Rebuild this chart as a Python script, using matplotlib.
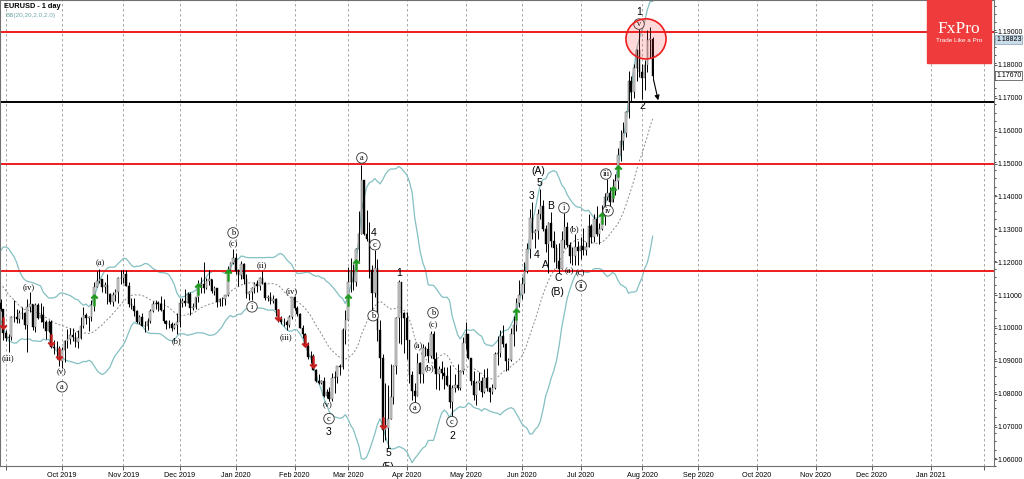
import numpy as np
import pandas as pd
import matplotlib
matplotlib.use("Agg")
import matplotlib.pyplot as plt
from matplotlib.patches import Rectangle, Ellipse

# closes before the first drawn bar (Aug 1 - Aug 28 2019), only to seed the bands
warmup_close = [1.1083, 1.1108, 1.1203, 1.1199, 1.1200, 1.1180, 1.1201, 1.1215, 1.1171, 1.1139,
                1.1107, 1.1090, 1.1078, 1.1093, 1.1081, 1.1081, 1.1143, 1.1099, 1.1089, 1.1076]
first_open = 1.1076

# daily bars Aug 29 2019 .. Aug 7 2020 (no bars on Dec 25 / Jan 1)
closes = [
    # Aug/Sep 2019
    1.1056, 1.0986, 1.0970, 1.0972, 1.1033, 1.1034, 1.1027, 1.1045, 1.1045, 1.1010, 1.1065, 1.1073,
    1.1003, 1.1070, 1.1031, 1.1040, 1.1017, 1.0991, 1.1019, 1.0942, 1.0939, 1.0939, 1.0900,
    # Oct
    1.0934, 1.0959, 1.0966, 1.0978, 1.0971, 1.0956, 1.0970, 1.1005, 1.1040, 1.1031, 1.1032, 1.1070,
    1.1123, 1.1143, 1.1149, 1.1125, 1.1131, 1.1103, 1.1078, 1.1099, 1.1110, 1.1152, 1.1152,
    # Nov
    1.1165, 1.1128, 1.1074, 1.1067, 1.1050, 1.1018, 1.1032, 1.1007, 1.1005, 1.1021, 1.1052, 1.1072,
    1.1077, 1.1073, 1.1055, 1.1022, 1.1012, 1.1013, 1.1000, 1.1009, 1.1018,
    # Dec
    1.1077, 1.1082, 1.1077, 1.1104, 1.1060, 1.1065, 1.1093, 1.1129, 1.1135, 1.1121, 1.1143, 1.1150,
    1.1112, 1.1122, 1.1078, 1.1087, 1.1088, 1.1101, 1.1176, 1.1198, 1.1213,
    # Jan 2020
    1.1172, 1.1160, 1.1195, 1.1150, 1.1104, 1.1108, 1.1120, 1.1133, 1.1127, 1.1151, 1.1136, 1.1092,
    1.1094, 1.1081, 1.1089, 1.1053, 1.1026, 1.1018, 1.1019, 1.1009, 1.1032, 1.1093,
    # Feb
    1.1061, 1.1043, 1.1001, 1.0980, 1.0945, 1.0911, 1.0916, 1.0871, 1.0839, 1.0831, 1.0837, 1.0792,
    1.0804, 1.0784, 1.0848, 1.0852, 1.0883, 1.0882, 1.0995, 1.1025,
    # Mar
    1.1139, 1.1173, 1.1140, 1.1240, 1.1286, 1.1449, 1.1285, 1.1270, 1.1177, 1.1107, 1.1183, 1.0994,
    1.0907, 1.0690, 1.0696, 1.0722, 1.0791, 1.0885, 1.1031, 1.1140, 1.1044, 1.1030,
    # Apr
    1.0962, 1.0856, 1.0807, 1.0794, 1.0892, 1.0859, 1.0938, 1.0937, 1.0914, 1.0980, 1.0906, 1.0860,
    1.0875, 1.0862, 1.0855, 1.0825, 1.0774, 1.0818, 1.0827, 1.0817, 1.0870, 1.0955,
    # May
    1.0980, 1.0907, 1.0838, 1.0796, 1.0832, 1.0839, 1.0805, 1.0848, 1.0816, 1.0804, 1.0816, 1.0922,
    1.0925, 1.0976, 1.0952, 1.0899, 1.0902, 1.0981, 1.1008, 1.1077, 1.1100,
    # Jun
    1.1134, 1.1172, 1.1239, 1.1335, 1.1289, 1.1295, 1.1345, 1.1371, 1.1301, 1.1256, 1.1319, 1.1264,
    1.1243, 1.1204, 1.1178, 1.1266, 1.1307, 1.1251, 1.1219, 1.1219, 1.1246, 1.1233,
    # Jul
    1.1249, 1.1238, 1.1245, 1.1310, 1.1275, 1.1330, 1.1287, 1.1300, 1.1342, 1.1398, 1.1411, 1.1384,
    1.1427, 1.1447, 1.1527, 1.1569, 1.1594, 1.1656, 1.1752, 1.1716, 1.1789, 1.1846, 1.1778,
    # Aug
    1.1760, 1.1799, 1.1875, 1.1878, 1.1767,
]
highs = [
    1.1088, 1.1059, 1.0994, 1.0980, 1.1035, 1.1085, 1.1057, 1.1054, 1.1064, 1.1048, 1.1087, 1.1109,
    1.1074, 1.1075, 1.1076, 1.1075, 1.1068, 1.1025, 1.1025, 1.1023, 1.0964, 1.0959, 1.0944,
    1.0943, 1.0964, 1.0998, 1.0999, 1.0999, 1.0988, 1.0994, 1.1033, 1.1063, 1.1044, 1.1036, 1.1086,
    1.1140, 1.1172, 1.1179, 1.1150, 1.1141, 1.1163, 1.1106, 1.1109, 1.1119, 1.1154, 1.1175,
    1.1176, 1.1175, 1.1140, 1.1092, 1.1092, 1.1054, 1.1039, 1.1046, 1.1022, 1.1031, 1.1057, 1.1081,
    1.1085, 1.1082, 1.1097, 1.1089, 1.1024, 1.1025, 1.1019, 1.1016, 1.1045,
    1.1090, 1.1090, 1.1117, 1.1110, 1.1109, 1.1077, 1.1095, 1.1145, 1.1154, 1.1200, 1.1153, 1.1175,
    1.1150, 1.1127, 1.1122, 1.1090, 1.1093, 1.1101, 1.1187, 1.1200, 1.1239,
    1.1228, 1.1180, 1.1205, 1.1196, 1.1165, 1.1113, 1.1123, 1.1141, 1.1145, 1.1156, 1.1172, 1.1140,
    1.1100, 1.1109, 1.1100, 1.1092, 1.1057, 1.1036, 1.1030, 1.1023, 1.1040, 1.1095,
    1.1096, 1.1066, 1.1046, 1.1010, 1.0985, 1.0957, 1.0929, 1.0920, 1.0876, 1.0859, 1.0843, 1.0852,
    1.0813, 1.0821, 1.0863, 1.0869, 1.0885, 1.0891, 1.1001, 1.1053,
    1.1185, 1.1214, 1.1195, 1.1242, 1.1356, 1.1495, 1.1451, 1.1358, 1.1323, 1.1190, 1.1237, 1.1211,
    1.1025, 1.0920, 1.0832, 1.0827, 1.0889, 1.0887, 1.1034, 1.1147, 1.1112, 1.1048,
    1.1047, 1.0963, 1.0868, 1.0831, 1.0925, 1.0895, 1.0952, 1.0946, 1.0958, 1.0990, 1.0990, 1.0926,
    1.0883, 1.0900, 1.0880, 1.0880, 1.0888, 1.0826, 1.0860, 1.0890, 1.0873, 1.0973,
    1.1019, 1.0980, 1.0905, 1.0868, 1.0840, 1.0865, 1.0852, 1.0874, 1.0877, 1.0819, 1.0829, 1.0926,
    1.0975, 1.0995, 1.1009, 1.0955, 1.0907, 1.1000, 1.1037, 1.1091, 1.1146,
    1.1154, 1.1199, 1.1257, 1.1361, 1.1384, 1.1302, 1.1361, 1.1422, 1.1389, 1.1314, 1.1322, 1.1354,
    1.1294, 1.1256, 1.1257, 1.1294, 1.1349, 1.1323, 1.1260, 1.1247, 1.1287, 1.1265,
    1.1276, 1.1303, 1.1261, 1.1345, 1.1317, 1.1345, 1.1371, 1.1318, 1.1375, 1.1411, 1.1452, 1.1428,
    1.1452, 1.1468, 1.1546, 1.1601, 1.1626, 1.1660, 1.1781, 1.1766, 1.1804, 1.1848, 1.1909,
    1.1803, 1.1816, 1.1907, 1.1916, 1.1886,
]
lows = [
    1.1050, 1.0964, 1.0959, 1.0926, 1.0962, 1.1017, 1.1016, 1.1015, 1.1026, 1.0998, 1.0927, 1.1047,
    1.0993, 1.0988, 1.1026, 1.1017, 1.1001, 1.0966, 1.0987, 1.0940, 1.0921, 1.0904, 1.0885,
    1.0879, 1.0897, 1.0939, 1.0952, 1.0961, 1.0942, 1.0940, 1.0967, 1.0999, 1.1012, 1.0991, 1.1020,
    1.1052, 1.1124, 1.1136, 1.1110, 1.1105, 1.1072, 1.1072, 1.1067, 1.1081, 1.1075, 1.1133,
    1.1138, 1.1126, 1.1064, 1.1056, 1.1036, 1.1014, 1.1012, 1.1006, 1.0989, 1.0995, 1.1014, 1.1049,
    1.1059, 1.1051, 1.1050, 1.1014, 1.0998, 1.0999, 1.0992, 1.0996, 1.0981,
    1.1004, 1.1065, 1.1066, 1.1077, 1.1040, 1.1053, 1.1059, 1.1078, 1.1106, 1.1105, 1.1118, 1.1132,
    1.1105, 1.1099, 1.1064, 1.1066, 1.1068, 1.1070, 1.1097, 1.1170, 1.1195,
    1.1163, 1.1127, 1.1148, 1.1135, 1.1090, 1.1086, 1.1085, 1.1105, 1.1110, 1.1116, 1.1133, 1.1085,
    1.1081, 1.1072, 1.1075, 1.1035, 1.1019, 1.1011, 1.1005, 1.0993, 1.1002, 1.1027,
    1.1053, 1.1036, 1.0999, 1.0968, 1.0945, 1.0905, 1.0892, 1.0871, 1.0835, 1.0828, 1.0830, 1.0789,
    1.0788, 1.0778, 1.0779, 1.0803, 1.0833, 1.0857, 1.0874, 1.0951,
    1.1030, 1.1110, 1.1116, 1.1126, 1.1202, 1.1322, 1.1283, 1.1265, 1.1153, 1.1054, 1.1093, 1.0959,
    1.0848, 1.0653, 1.0660, 1.0636, 1.0734, 1.0769, 1.0860, 1.0953, 1.0950, 1.0924,
    1.0905, 1.0832, 1.0780, 1.0768, 1.0793, 1.0832, 1.0832, 1.0915, 1.0895, 1.0908, 1.0877, 1.0814,
    1.0812, 1.0844, 1.0813, 1.0823, 1.0757, 1.0727, 1.0806, 1.0812, 1.0812, 1.0860,
    1.0937, 1.0904, 1.0826, 1.0782, 1.0767, 1.0811, 1.0791, 1.0801, 1.0807, 1.0775, 1.0798, 1.0815,
    1.0887, 1.0911, 1.0942, 1.0870, 1.0872, 1.0898, 1.0945, 1.0990, 1.1064,
    1.1089, 1.1106, 1.1166, 1.1214, 1.1271, 1.1242, 1.1271, 1.1331, 1.1296, 1.1232, 1.1168, 1.1247,
    1.1199, 1.1183, 1.1168, 1.1178, 1.1244, 1.1247, 1.1196, 1.1190, 1.1190, 1.1190,
    1.1211, 1.1221, 1.1222, 1.1245, 1.1257, 1.1262, 1.1279, 1.1254, 1.1297, 1.1313, 1.1390, 1.1371,
    1.1384, 1.1405, 1.1423, 1.1508, 1.1540, 1.1580, 1.1638, 1.1690, 1.1700, 1.1750, 1.1762,
    1.1696, 1.1724, 1.1779, 1.1820, 1.1755,
]

holidays = ["2019-12-25", "2020-01-01", "2020-12-25", "2021-01-01"]

# horizontal levels
red_levels = [1.1900, 1.1500, 1.1172]
black_level = 1.1687

# signal arrows (bar, price)
green_up = [(35, 1.1085), (74, 1.1119), (85, 1.1161), (130, 1.1085), (133, 1.1192),
            (193, 1.1043), (225, 1.1335), (229, 1.1414), (231, 1.1478)]
red_down = [(1, 1.1016), (19, 1.0964), (22, 1.0921), (104, 1.1040), (114, 1.0961),
            (117, 1.0897), (143, 1.0712)]

# wave labels (bar, price, text, kind)
waves = [
    (2.8, 1.0909, "(iii)", "paren"), (10.7, 1.1125, "(iv)", "paren"),
    (23, 1.0864, "(v)", "paren"), (23, 1.0821, "a", "circ"),
    (37.2, 1.1198, "(a)", "paren"), (66, 1.0961, "(b)", "paren"),
    (87, 1.1289, "b", "circ"), (87, 1.1256, "(c)", "paren"),
    (94.1, 1.1064, "i", "circ"), (97.8, 1.1192, "(ii)", "paren"),
    (106.8, 1.0973, "(iii)", "paren"), (109, 1.1113, "(iv)", "paren"),
    (122.5, 1.0766, "(v)", "paren"), (122.9, 1.0724, "c", "circ"), (122.9, 1.0684, "3", "num"),
    (135.2, 1.1517, "a", "circ"), (139.7, 1.1289, "4", "num"), (140.1, 1.1253, "c", "circ"),
    (139.4, 1.1037, "b", "circ"), (149.1, 1.1167, "1", "num"),
    (145, 1.0620, "5", "num"), (145, 1.0577, "(5)", "num"),
    (155.1, 1.0757, "a", "circ"), (156.2, 1.0943, "(a)", "paren"),
    (161.8, 1.1046, "b", "circ"), (161.8, 1.1009, "(c)", "paren"), (160.3, 1.0876, "(b)", "paren"),
    (168.9, 1.0715, "c", "circ"), (168.9, 1.0672, "2", "num"),
    (201.1, 1.1477, "(A)", "num"), (201.8, 1.1441, "5", "num"), (198.8, 1.1401, "3", "num"),
    (205.9, 1.1371, "B", "num"), (200.7, 1.1222, "4", "num"), (203.7, 1.1192, "A", "num"),
    (208.6, 1.1152, "C", "num"), (208.2, 1.1110, "(B)", "num"),
    (210.8, 1.1365, "i", "circ"), (214.9, 1.1301, "(b)", "paren"),
    (212.7, 1.1174, "(a)", "paren"), (216.8, 1.1167, "(c)", "paren"), (217.2, 1.1128, "ii", "circ"),
    (226.5, 1.1468, "iii", "circ"), (227.3, 1.1356, "iv", "circ"),
    (238.9, 1.1961, "1", "num"), (238.9, 1.1924, "v", "circ"), (240, 1.1675, "2", "num"),
]

# ---- bar positions (trading days, like the terminal does) ----
days = pd.bdate_range("2019-08-01", "2021-02-26")
days = days[~days.isin(pd.to_datetime(holidays))]
start = days.get_loc(pd.Timestamp("2019-08-29"))
pos = np.arange(len(days)) - start

all_close = pd.Series(warmup_close + closes)
x_all = pos[:len(all_close)]
mid = all_close.rolling(20).mean()
sd = all_close.rolling(20).std(ddof=0)
upper = mid + 2 * sd
lower = mid - 2 * sd

c = np.array(closes)
o = np.r_[first_open, c[:-1]]
h = np.maximum(np.array(highs), np.maximum(o, c))
l = np.minimum(np.array(lows), np.minimum(o, c))
x = np.arange(len(c))
bull = c >= o

fig = plt.figure(figsize=(10.24, 4.79), dpi=100)
ax = fig.add_axes([0.0, 13 / 479, 994 / 1024, 466 / 479])

# month grid
months = pd.Series(pos, index=days).groupby(days.to_period("M")).first()
months = months[(months.index >= pd.Period("2019-09", "M"))]
tick_pos = months.values
tick_lab = [p.strftime("%b %Y") if pd.Period("2019-10", "M") <= p <= pd.Period("2021-01", "M") else ""
            for p in months.index]
for t in tick_pos:
    ax.axvline(t, color="#9a9a9a", lw=0.6, ls=(0, (3, 3)), zorder=1)

ax.plot(x_all, upper, color="#84c0c2", lw=0.9, zorder=2)
ax.plot(x_all, lower, color="#84c0c2", lw=0.9, zorder=2)
ax.plot(x_all, mid, color="#8a8a8a", lw=0.7, ls=(0, (2, 2)), zorder=2)

for lv in red_levels:
    ax.axhline(lv, color="#ee1c1c", lw=1.4, zorder=2)
ax.axhline(black_level, color="black", lw=1.4, zorder=2)

ax.vlines(x, l, h, color="black", lw=0.7, zorder=3)
ax.bar(x[bull], (c - o)[bull], bottom=o[bull], width=0.6, color="#d4d4d4",
       edgecolor="#404040", lw=0.3, zorder=4)
ax.bar(x[~bull], (o - c)[~bull], bottom=c[~bull], width=0.6, color="black",
       edgecolor="black", lw=0.3, zorder=4)

gx, gy = zip(*green_up)
rx, ry = zip(*red_down)
ax.scatter(gx, gy, marker=r"$\uparrow$", s=70, color="#1f9a1f", lw=0.6, zorder=6)
ax.scatter(rx, ry, marker=r"$\downarrow$", s=70, color="#c81e1e", lw=0.6, zorder=6)

for bx, py, txt, kind in waves:
    if kind == "num":
        ax.text(bx, py, txt, ha="center", va="center", fontsize=7.5,
                family="Liberation Sans", zorder=7, clip_on=True)
    elif kind == "paren":
        ax.text(bx, py, txt, ha="center", va="center", fontsize=6,
                family="Liberation Serif", zorder=7, clip_on=True)
    else:
        ax.text(bx, py, txt, ha="center", va="center", fontsize=6,
                family="Liberation Serif", zorder=7, clip_on=True,
                bbox=dict(boxstyle="circle,pad=0.15", fc="white", ec="#303030", lw=0.6))

# highlight circle and arrow at the top
ax.add_patch(Ellipse((241.5, 1.1879), 15.0, 0.0122, facecolor=(1, 0.2, 0.2, 0.18),
                     edgecolor="#ee1c1c", lw=1.2, zorder=8))
ax.annotate("", xy=(246.3, 1.1684), xytext=(244.1, 1.1763),
            arrowprops=dict(arrowstyle="-|>", color="black", lw=0.8, mutation_scale=7), zorder=9)

ax.set_xlim(-0.19, 371.7)
ax.set_ylim(1.05809, 1.19973)
ax.set_xticks(tick_pos)
ax.set_xticklabels(tick_lab)
ax.set_yticks(np.arange(1.06, 1.1901, 0.01))
ax.set_yticks(np.arange(1.058, 1.1999, 0.0025), minor=True)
ax.yaxis.set_major_formatter(matplotlib.ticker.FormatStrFormatter("%.5f"))
ax.yaxis.tick_right()
ax.tick_params(axis="x", labelsize=5.2, length=3, width=0.6, color="#404040", pad=1.5)
ax.tick_params(axis="y", labelsize=5.0, length=2, width=0.6, color="#404040", pad=0.5)
ax.tick_params(axis="y", which="minor", length=1.2, width=0.5)
for lab in ax.get_xticklabels() + ax.get_yticklabels():
    lab.set_family("Liberation Sans")
for sp in ax.spines.values():
    sp.set_color("#707070")
    sp.set_linewidth(0.8)

# price tags on the scale
ax.annotate("1.18823", xy=(1.0, 1.18823), xycoords=("axes fraction", "data"),
            xytext=(1.5, -1), textcoords="offset points", ha="left", va="center",
            fontsize=5.0, family="Liberation Sans", annotation_clip=False, zorder=10,
            bbox=dict(boxstyle="square,pad=0.12", fc="#c9dcea", ec="#8aa0b0", lw=0.5))
ax.annotate("1.17670", xy=(1.0, 1.1767), xycoords=("axes fraction", "data"),
            xytext=(1.5, 0), textcoords="offset points", ha="left", va="center",
            fontsize=5.0, family="Liberation Sans", annotation_clip=False, zorder=10,
            bbox=dict(boxstyle="square,pad=0.12", fc="white", ec="#404040", lw=0.5))

fig.text(4 / 1024, 1 - 6 / 479, "EURUSD - 1 day", fontsize=5.3, weight="bold",
         family="Liberation Sans", va="center")
fig.text(5 / 1024, 1 - 16 / 479, "BB(20,20,2.0,2.0)", fontsize=4.6, color="#6fa8aa",
         family="Liberation Sans", va="center")

# logo
fig.add_artist(Rectangle((927 / 1024, 1 - 63 / 479), 64 / 1024, 63 / 479,
                         transform=fig.transFigure, color="#ef3b3b", zorder=20))
fig.text(959 / 1024, 1 - 29 / 479, "FxPro", color="white", fontsize=12.5,
         family="Liberation Serif", ha="center", va="center", zorder=21)
fig.text(959 / 1024, 1 - 41 / 479, "Trade Like a Pro", color="white", fontsize=4.6,
         family="Liberation Sans", ha="center", va="center", zorder=21)

fig.savefig("out.png", dpi=100)
